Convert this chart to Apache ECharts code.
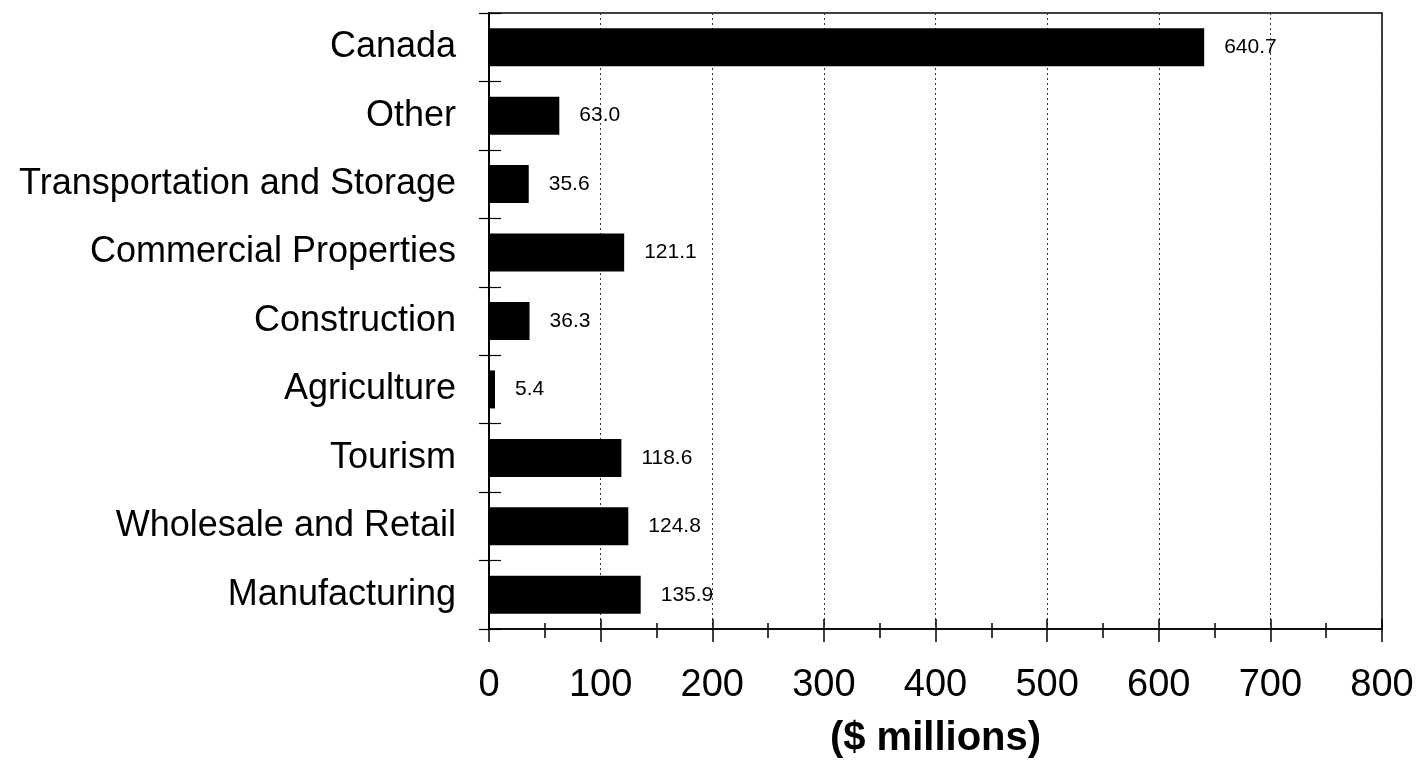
<!DOCTYPE html>
<html>
<head>
<meta charset="utf-8">
<script src="https://cdn.jsdelivr.net/npm/echarts@6/dist/echarts.min.js"></script>
<style>
html,body{margin:0;padding:0;background:#fff;}
#chart{width:1416px;height:762px;}
</style>
</head>
<body>
<div id="chart"></div>
<script>
const categories = ["Manufacturing","Wholesale and Retail","Tourism","Agriculture","Construction","Commercial Properties","Transportation and Storage","Other","Canada"];
const values = [135.9,124.8,118.6,5.4,36.3,121.1,35.6,63.0,640.7];
const xTicks = [0,100,200,300,400,500,600,700,800];
const axisName = "($ millions)";

const FONT = "'Liberation Sans', Arial, sans-serif";
const chart = echarts.init(document.getElementById('chart'), null, {renderer:'canvas'});
const xBase = {
  type:'value', min:xTicks[0], max:xTicks[xTicks.length-1], interval:100, position:'bottom'
};
chart.setOption({
  animation:false,
  backgroundColor:'#fff',
  grid:{left:489,right:34,top:13,bottom:133,show:true,borderColor:'#000',borderWidth:1.5,
        containLabel:false,outerBoundsMode:'none'},
  xAxis:[
    Object.assign({}, xBase, {
      name:axisName, nameLocation:'middle', nameGap:90,
      nameTextStyle:{fontFamily:FONT,fontSize:40,fontWeight:'bold',color:'#000'},
      axisLine:{show:true,lineStyle:{color:'#000',width:1.5}},
      axisTick:{show:true,inside:false,length:13,lineStyle:{color:'#000',width:1.5}},
      minorTick:{show:true,splitNumber:2,length:9,lineStyle:{color:'#000',width:1.5}},
      axisLabel:{fontFamily:FONT,fontSize:38,color:'#000',margin:38},
      splitLine:{show:true,lineStyle:{color:'#333',type:[2,3],width:1}}
    }),
    Object.assign({}, xBase, {
      axisLine:{show:false},
      axisTick:{show:true,inside:true,length:10,lineStyle:{color:'#000',width:1.5}},
      minorTick:{show:true,splitNumber:2,length:6,lineStyle:{color:'#000',width:1.5}},
      axisLabel:{show:false},
      splitLine:{show:false}
    })
  ],
  yAxis:[
    {
      type:'category', data:categories, position:'left',
      axisLine:{show:true,lineStyle:{color:'#000',width:2}},
      axisTick:{show:true,inside:false,length:10,lineStyle:{color:'#000',width:1.2}},
      axisLabel:{fontFamily:FONT,fontSize:36,color:'#000',margin:33},
      splitLine:{show:false}
    },
    {
      type:'category', data:categories, position:'left',
      axisLine:{show:false},
      axisTick:{show:true,inside:true,length:12,lineStyle:{color:'#000',width:1.2}},
      axisLabel:{show:false},
      splitLine:{show:false}
    }
  ],
  series:[{
    type:'bar', data:values, xAxisIndex:0, yAxisIndex:0,
    barWidth:38,
    itemStyle:{color:'#000'},
    label:{show:true,position:'right',distance:20,fontFamily:FONT,fontSize:21,color:'#000',
      formatter:p=>p.value.toFixed(1)}
  }]
});
</script>
</body>
</html>
